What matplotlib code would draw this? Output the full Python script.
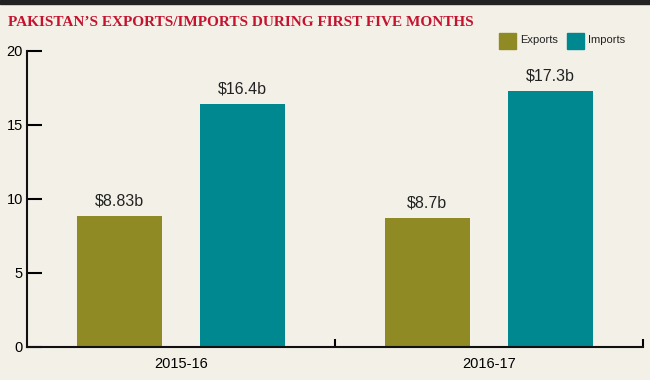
import numpy as np
import matplotlib.pyplot as plt
from matplotlib.patches import Rectangle

# --- data ---
years = ['2015-16', '2016-17']
exports = [8.83, 8.7]
imports = [16.4, 17.3]
export_labels = ['$8.83b', '$8.7b']
import_labels = ['$16.4b', '$17.3b']
yticks = [0, 5, 10, 15, 20]

# --- style ---
BG = '#f3f1e7'
C_EXP = '#8f8a24'
C_IMP = '#008891'
C_TITLE = '#c4122f'
NARROW = ['Liberation Sans Narrow', 'Liberation Sans', 'DejaVu Sans']

plt.rcParams['font.family'] = NARROW

fig = plt.figure(figsize=(6.5, 3.8), dpi=100, facecolor=BG)
ax = fig.add_axes([27 / 650, 33 / 380, 616 / 650, 296 / 380])
ax.set_facecolor(BG)

# dark strip along the top edge
fig.patches.append(Rectangle((0, 1 - 4 / 380), 1, 4 / 380, transform=fig.transFigure,
                             color='#222222', zorder=0))

x = np.arange(len(years)) + 0.5
off, w = 0.2, 0.277
ax.bar(x - off, exports, w, color=C_EXP, zorder=2)
ax.bar(x + off, imports, w, color=C_IMP, zorder=2)

for xi, v, s in zip(x - off, exports, export_labels):
    ax.text(xi, v + 0.5, s, ha='center', va='bottom', fontsize=11.5, color='#222222')
for xi, v, s in zip(x + off, imports, import_labels):
    ax.text(xi, v + 0.5, s, ha='center', va='bottom', fontsize=11.5, color='#222222')

ax.set_xlim(0, 2)
ax.set_ylim(0, 20)
ax.set_yticks(yticks)
ax.tick_params(axis='y', direction='in', length=11, width=1.5, labelsize=10.5, pad=3)
ax.set_xticks([1, 2])
ax.set_xticklabels([])
ax.set_xticks(x, minor=True)
ax.set_xticklabels(years, minor=True)
ax.tick_params(axis='x', which='major', direction='in', length=6, width=1.5)
ax.tick_params(axis='x', which='minor', length=0, labelsize=10.5, pad=7)

for sp in ['top', 'right']:
    ax.spines[sp].set_visible(False)
for sp in ['left', 'bottom']:
    ax.spines[sp].set_linewidth(1.5)
    ax.spines[sp].set_color('#111111')

fig.text(8 / 650, 1 - 22 / 380, "PAKISTAN’S EXPORTS/IMPORTS DURING FIRST FIVE MONTHS",
         ha='left', va='center', fontsize=11, fontweight='bold', color=C_TITLE,
         family=['Liberation Serif', 'DejaVu Serif'])

# legend
for px, c, lab in [(499, C_EXP, 'Exports'), (567, C_IMP, 'Imports')]:
    fig.patches.append(Rectangle((px / 650, 1 - 49 / 380), 17 / 650, 16 / 380,
                                 transform=fig.transFigure, color=c))
    fig.text((px + 21) / 650, 1 - 40 / 380, lab, ha='left', va='center',
             fontsize=8, color='#222222')

fig.savefig('out.png', dpi=100, facecolor=BG)
